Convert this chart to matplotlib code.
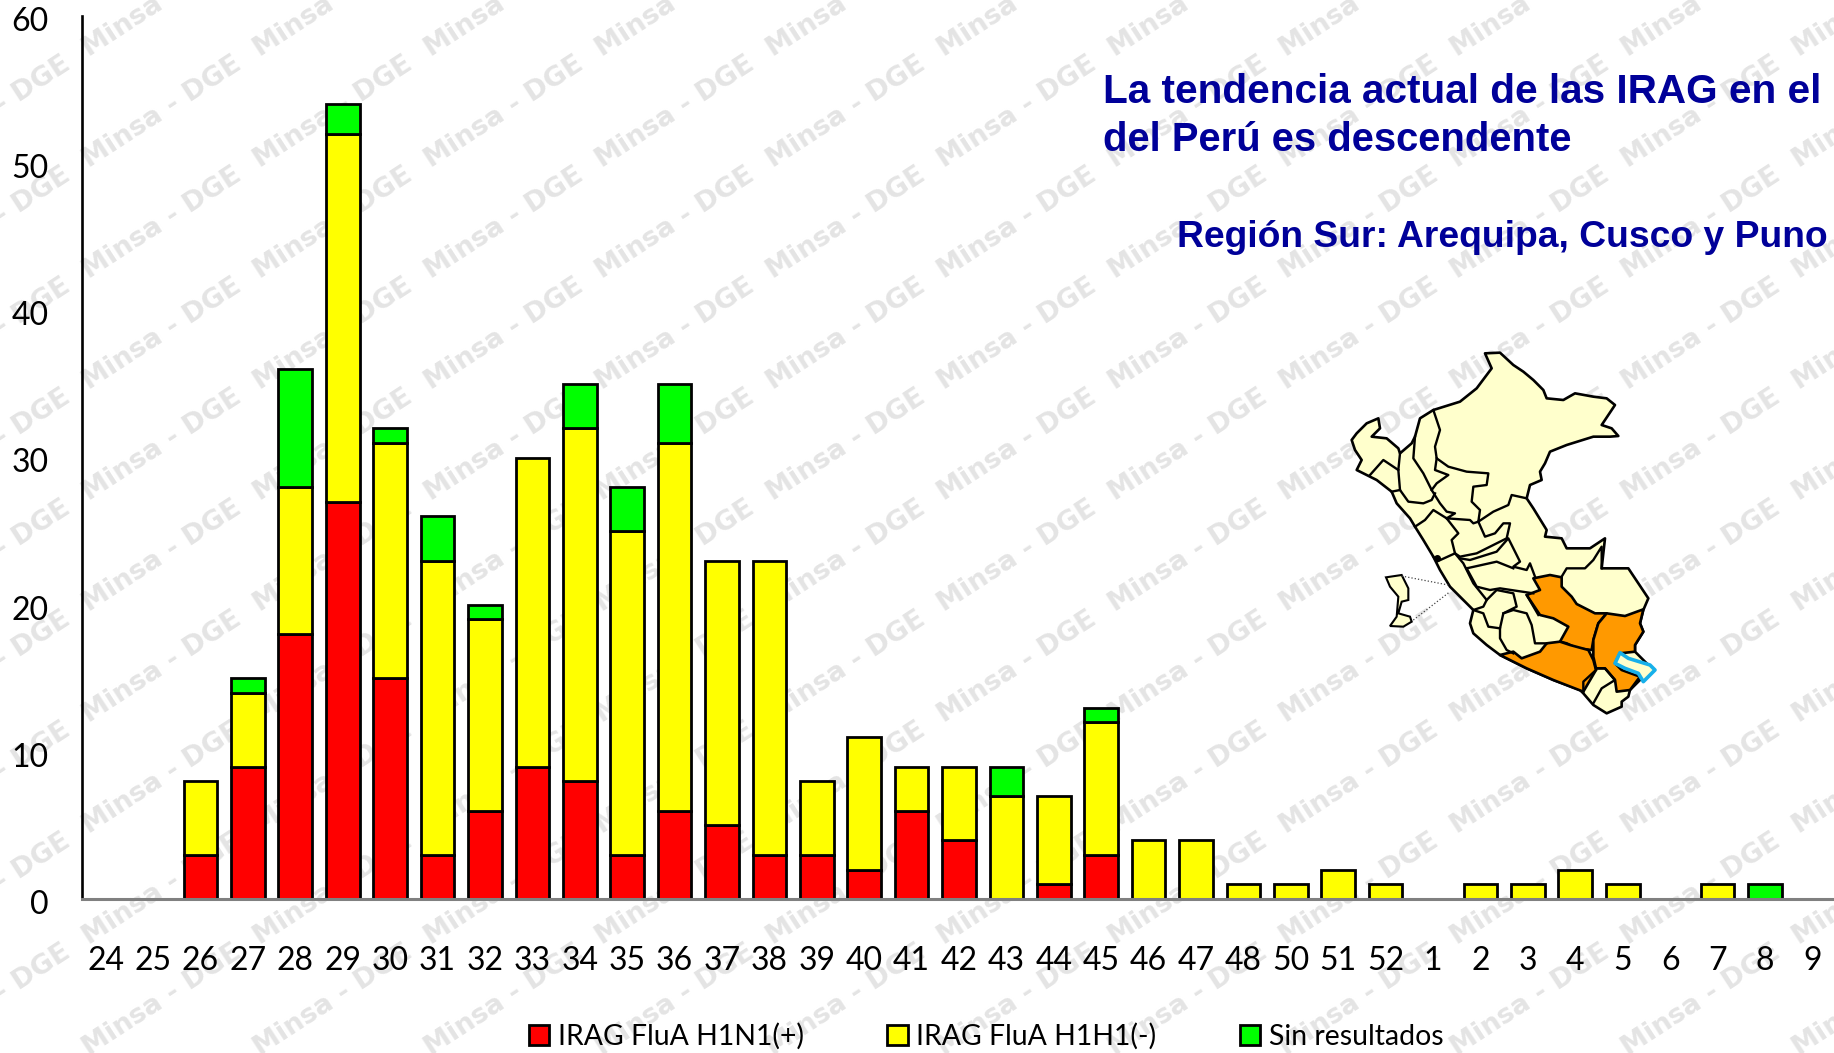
import matplotlib
matplotlib.use("Agg")
import matplotlib.pyplot as plt
from matplotlib.patches import Rectangle, Polygon
from matplotlib.transforms import ScaledTranslation

W, H = 1834, 1053
weeks = ["24","25","26","27","28","29","30","31","32","33","34","35","36","37","38","39","40","41","42",
         "43","44","45","46","47","48","50","51","52","1","2","3","4","5","6","7","8","9"]
positive = [0,0,3,9,18,27,15,3,6,9,8,3,6,5,3,3,2,6,4,0,1,3,0,0,0,0,0,0,0,0,0,0,0,0,0,0,0]
negative = [0,0,5,5,10,25,16,20,13,21,24,22,25,18,20,5,9,3,5,7,6,9,4,4,1,1,2,1,0,1,1,2,1,0,1,0,0]
no_result = [0,0,0,1,8,2,1,3,1,0,3,3,4,0,0,0,0,0,0,2,0,1,0,0,0,0,0,0,0,0,0,0,0,0,0,1,0]
series_names = ["IRAG FluA H1N1(+)", "IRAG FluA H1H1(-)", "Sin resultados"]
series_colors = ["#ff0000", "#ffff00", "#00ff00"]
yticks = [0, 10, 20, 30, 40, 50, 60]
title_lines = ["La tendencia actual de las IRAG en el", "del Perú es descendente"]
subtitle = "Región Sur: Arequipa, Cusco y Puno"
watermark = "Minsa - DGE"


def box(left, top, w, h):
    return [left / W, 1 - (top + h) / H, w / W, h / H]


fig = plt.figure(figsize=(W / 100, H / 100), dpi=100, facecolor="white")

# watermark layer, in pixel coordinates
bg = fig.add_axes([0, 0, 1, 1], zorder=0)
bg.set_xlim(0, W)
bg.set_ylim(H, 0)
bg.axis("off")
for j in range(-1, 10):
    top = 53 + 111 * (j - 1)
    for i in range(-1, 12):
        cx = 162 + 171 * i
        cy = top + 59
        t = bg.text(cx, cy, watermark, rotation=33, rotation_mode="anchor", ha="center", va="center",
                    fontsize=19.5, color="#e4e4e4", fontweight="bold", family="DejaVu Sans")
        t.set_clip_path(Rectangle((cx - 95, top), 190, 111, transform=bg.transData))

# main chart
ax = fig.add_axes(box(82, 16, 1754, 883), zorder=1)
ax.patch.set_alpha(0)
x = list(range(len(weeks)))
bottoms2 = [a + b for a, b in zip(positive, negative)]
kw = dict(width=0.71, edgecolor="black", linewidth=2.0)
stack = [
    (positive, [0] * len(x)),
    (negative, positive),
    (no_result, bottoms2),
]
handles = []
for (vals, bot), name, col in zip(stack, series_names, series_colors):
    xs = [a for a, v in zip(x, vals) if v > 0]
    vs = [v for v in vals if v > 0]
    bs = [b for b, v in zip(bot, vals) if v > 0]
    handles.append(ax.bar(xs, vs, bottom=bs, color=col, label=name, **kw))
ax.set_xlim(-0.5, len(x) - 0.5)
ax.set_ylim(0, 60)
ax.set_xticks(x, weeks)
ax.set_yticks(yticks)
ax.tick_params(length=0)
ax.tick_params(axis="x", pad=34, labelsize=23)
ax.tick_params(axis="y", pad=24, labelsize=23)
for lab in ax.get_xticklabels() + ax.get_yticklabels():
    lab.set_family("Lato")
for lab in ax.get_yticklabels():
    lab.set_transform(lab.get_transform() + ScaledTranslation(0, -3 / 100, fig.dpi_scale_trans))
for s in ("top", "right"):
    ax.spines[s].set_visible(False)
ax.spines["left"].set_linewidth(1.9)
ax.spines["bottom"].set_linewidth(2.2)
ax.spines["bottom"].set_color("#808080")

leg = fig.legend(handles=handles, loc="lower left", bbox_to_anchor=(529 / W, 1 - 1050 / H), ncol=3,
                 frameon=False, prop={"family": "Lato", "size": 20.4}, handlelength=0.72, handleheight=0.72,
                 handletextpad=0.3, columnspacing=2.95, borderpad=0, borderaxespad=0)
leg.set_zorder(5)

# title layer
fg = fig.add_axes([0, 0, 1, 1], zorder=3)
fg.set_xlim(0, W)
fg.set_ylim(H, 0)
fg.axis("off")
navy = "#000099"
tkw = dict(family="Liberation Sans", fontweight="bold", color=navy, va="baseline", ha="left")
fg.text(1103, 103, title_lines[0], fontsize=29.2, **tkw)
fg.text(1103, 151, title_lines[1], fontsize=28.8, **tkw)
fg.text(1177, 247, subtitle, fontsize=26.8, **tkw)

# map of Peru, traced in crop pixels
mp = fig.add_axes(box(1300, 330, 400, 400), zorder=2)
mp.set_xlim(0, 1200)
mp.set_ylim(1200, 0)
mp.axis("off")
peru = [(555,70),(600,68),(640,105),(670,125),(700,150),(730,180),(740,205),(790,210),(825,190),(880,200),(920,205),
        (945,225),(905,285),(935,295),(955,318),(930,320),(880,320),(800,345),(750,365),(735,400),(720,425),(725,450),
        (690,465),(680,505),(700,535),(740,600),(735,620),(785,625),(800,655),(870,655),(915,625),(905,715),(985,715),
        (1045,805),(1030,840),(1020,880),(1030,905),(1005,945),(1005,965),(1060,1020),(1020,1050),(990,1080),(985,1100),
        (965,1115),(965,1130),(920,1150),(880,1125),(850,1090),(840,1080),(760,1050),(680,1015),(600,975),(560,945),
        (520,910),(510,880),(520,840),(480,800),(450,770),(420,720),(400,680),(370,630),(345,590),(330,565),(290,520),
        (275,485),(230,450),(170,420),(185,390),(165,360),(155,330),(170,310),(200,280),(235,265),(240,295),(215,320),
        (260,325),(295,355),(300,370),(335,340),(345,320),(360,265),(400,240),(480,215),(530,175),(575,115)]
cream = "#ffffcc"
orange = "#ff9900"
mp.add_patch(Polygon(peru, closed=True, fc=cream, ec="black", lw=1.9, joinstyle="round"))
cusco = [(700,745),(750,735),(785,742),(785,770),(815,800),(830,822),(885,850),(920,850),(895,880),(880,930),(875,960),
         (830,955),(800,940),(780,935),(805,890),(760,865),(720,855),(680,795),(720,780)]
arequipa = [(600,975),(640,965),(665,985),(720,965),(740,940),(780,935),(810,945),(865,960),(880,990),(888,1020),
            (850,1085),(760,1050),(680,1015)]
puno = [(920,850),(975,858),(1030,838),(1020,880),(1030,905),(1005,945),(1005,965),(960,970),(945,1000),(965,1020),
        (1020,1040),(990,1080),(950,1085),(945,1050),(915,1015),(888,1015),(880,980),(880,930),(895,880)]
for poly in (cusco, arequipa, puno):
    mp.add_patch(Polygon(poly, closed=True, fc=orange, ec="black", lw=1.9, joinstyle="round"))
lake = [(945,1000),(960,968),(985,985),(1050,1005),(1065,1020),(1030,1055),(1015,1030),(975,1015)]
mp.add_patch(Polygon(lake, closed=True, fc=cream, ec="#17b0ea", lw=2.6, joinstyle="round"))
island = [(258,742),(305,735),(325,775),(325,810),(305,815),(295,850),(330,860),(335,875),(310,890),(270,888),
          (290,860),(295,800),(270,770)]
mp.add_patch(Polygon(island, closed=True, fc=cream, ec="black", lw=1.5))
borders = [
    [(400,240),(420,300),(405,350),(410,385),(445,410),(500,425),(565,430),(560,465),(520,470),(515,515),(540,540),
     (535,575),(580,545),(625,525),(635,495),(680,505)],
    [(345,320),(340,385),(370,430),(395,480),(420,520),(440,545),(465,550),(440,565),(510,570),(520,580),(535,575)],
    [(410,385),(405,420),(445,435),(410,460),(395,480)],
    [(300,370),(295,420),(300,480),(325,515),(370,520),(395,510),(405,490)],
    [(210,435),(250,390),(295,420)],
    [(300,480),(275,485)],
    [(345,590),(375,570),(400,540),(440,565)],
    [(440,565),(475,610),(455,630),(465,670),(410,695),(400,680)],
    [(465,670),(480,680),(530,670),(620,625),(630,580),(610,580),(585,610),(555,620),(535,575)],
    [(480,685),(510,690),(590,665),(625,625),(660,695),(640,710),(680,720),(690,700),(705,740)],
    [(500,715),(590,695),(640,715)],
    [(465,670),(490,700),(520,760),(560,810),(550,830),(520,840)],
    [(500,715),(530,770),(570,780),(600,775),(700,790)],
    [(560,810),(590,780),(640,790),(650,830),(610,850),(600,895),(565,890),(550,850),(520,840)],
    [(600,895),(600,925),(620,960),(640,970)],
    [(610,850),(640,840),(680,850),(695,885),(705,940),(740,940)],
    [(785,740),(800,715),(855,715),(880,690),(905,650),(905,715)],
    [(888,1015),(915,1015),(945,1050),(905,1075),(880,1120)],
    [(850,1085),(850,1055),(888,1020)],
    [(680,795),(715,855)],
]
for line in borders:
    mp.plot(*zip(*line), color="black", lw=1.7, solid_joinstyle="round")
mp.plot(*zip((305,738),(445,765)), color="#444444", lw=0.9, ls=":")
mp.plot(*zip((340,870),(450,785)), color="#444444", lw=0.9, ls=":")
mp.plot([410], [685], "o", color="black", ms=4)

fig.savefig("out.png", dpi=100)
